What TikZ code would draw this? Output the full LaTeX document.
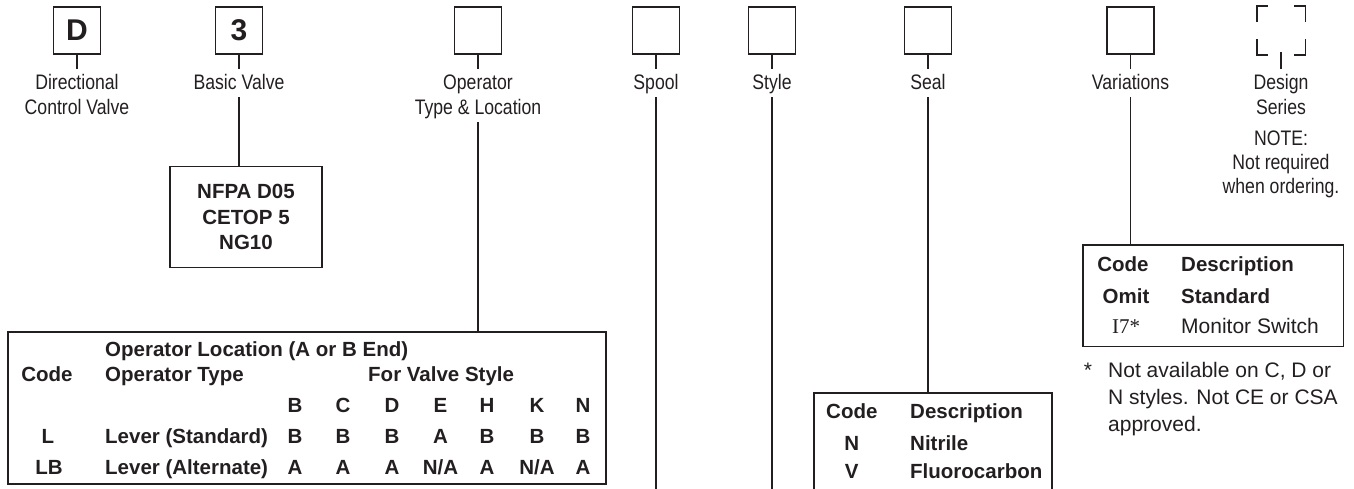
\documentclass[tikz,border=0pt]{standalone}
\usepackage{fontspec}
\setmainfont{Liberation Sans}
\newfontfamily\lblfont{Liberation Sans}[FakeStretch=0.84]
\newfontfamily\serffont{Liberation Serif}
\definecolor{ink}{RGB}{35,31,32}
\newcommand\NA{N/A}
\begin{document}
\begin{tikzpicture}[x=1pt,y=-1pt,
 every node/.style={text=ink},
 codebox/.style={draw=ink,line width=1.6pt,minimum width=47pt,minimum height=47pt,inner sep=0pt,font=\bfseries\fontsize{30}{30}\selectfont},
 lbl/.style={anchor=base,inner sep=0pt,text height=21pt,text depth=7pt,font=\lblfont\fontsize{21}{25}\selectfont},
 wire/.style={draw=ink,line width=1.3pt},
 tabframe/.style={draw=ink,line width=1.6pt,inner sep=0pt},
 tabline/.style={draw=ink,line width=1.6pt},
 tb/.style={anchor=base,inner sep=0pt,font=\bfseries\fontsize{20.5}{24}\selectfont},
 tbl/.style={tb,anchor=base west},
 tnorm/.style={anchor=base west,inner sep=0pt,font=\fontsize{21}{25}\selectfont},
]
\useasboundingbox (0,0) rectangle (1354,489);
\coordinate (bottomedge) at (0,495);

% code boxes
\node[codebox] (bD) at (77,30.5) {D};
\node[codebox] (b3) at (239,30.5) {3};
\node[codebox] (bop) at (478,30.5) {};
\node[codebox] (bsp) at (656,30.5) {};
\node[codebox] (bst) at (772,30.5) {};
\node[codebox] (bse) at (928,30.5) {};
\node[codebox] (bva) at (1130.5,30.5) {};
\node[codebox,draw=none] (bds) at (1281,30.5) {};

% design series corners
\draw[tabline] ([yshift=-16pt]bds.north west) -- (bds.north west) -- ([xshift=11pt]bds.north west);
\draw[tabline] ([xshift=-11pt]bds.north east) -- (bds.north east) -- ([yshift=-16pt]bds.north east);
\draw[tabline] ([yshift=16pt]bds.south west) -- (bds.south west) -- ([xshift=11pt]bds.south west);
\draw[tabline] ([xshift=-11pt]bds.south east) -- (bds.south east) -- ([yshift=16pt]bds.south east);

% labels
\node[lbl] (lD1) at (77,90) {Directional};
\node[lbl] (lD2) at (77,115) {Control Valve};
\node[lbl] (l3) at (239,90) {Basic Valve};
\node[lbl] (lop1) at (478,90) {Operator};
\node[lbl] (lop2) at (478,115) {Type \& Location};
\node[lbl] (lsp) at (656,90) {Spool};
\node[lbl] (lst) at (772,90) {Style};
\node[lbl] (lse) at (928,90) {Seal};
\node[lbl] (lva) at (1130.5,90) {Variations};
\node[lbl] (lds1) at (1281,90) {Design};
\node[lbl] (lds2) at (1281,115) {Series};
\node[lbl] (n1) at (1281,146) {NOTE:};
\node[lbl] (n2) at (1281,170) {Not required};
\node[lbl] (n3) at (1281,194) {when ordering.};

% ticks
\draw[wire] (bD.south) -- (lD1.north);
\draw[wire] (b3.south) -- (l3.north);
\draw[wire] (bop.south) -- (lop1.north);
\draw[wire] (bsp.south) -- (lsp.north);
\draw[wire] (bst.south) -- (lst.north);
\draw[wire] (bse.south) -- (lse.north);
\draw[wire] (bva.south) -- (lva.north);
\draw[wire] ([yshift=3pt]bds.south) -- (lds1.north);

% basic valve box
\node[tabframe,minimum width=152.3pt,minimum height=100.6pt,align=center,
      font=\bfseries\fontsize{20.5}{25.5}\selectfont] (nfpa) at (246,217) {NFPA D05\\CETOP 5\\NG10};
\draw[wire] (l3.south) -- (nfpa.north -| l3.south);

% operator table
\node[tabframe,minimum width=598pt,minimum height=152pt] (optab) at (307,408) {};
\draw[wire] (lop2.south) -- (optab.north -| lop2.south);
\node[tbl] (t1) at (105,356) {Operator Location (A or B End)};
\node[tb] (t2) at (47,381) {Code};
\node[tbl] (t3) at (105,381) {Operator Type};
\node[tbl] (t4) at (368,381) {For Valve Style};
\node[tb] (cL) at (48,443) {L};
\node[tbl] (dL) at (105,443) {Lever (Standard)};
\node[tb] (cLB) at (49,474) {LB};
\node[tbl] (dLB) at (105,474) {Lever (Alternate)};
\foreach \i/\x/\h/\s/\al in {1/295/B/B/A, 2/343/C/B/A, 3/392/D/B/A, 4/440.5/E/A/\NA, 5/487/H/B/A, 6/537/K/B/\NA, 7/583/N/B/A}{
  \node[tb] (h\i) at (\x,412) {\h};
  \node[tb] (s\i) at (\x,443) {\s};
  \node[tb] (a\i) at (\x,474) {\al};
}

% spool and style lines
\draw[wire] (lsp.south) -- (lsp.south |- bottomedge);
\draw[wire] (lst.south) -- (lst.south |- bottomedge);

% seal table (open at bottom)
\node[minimum width=238pt,minimum height=102pt,inner sep=0pt] (sealtab) at (933,444) {};
\draw[tabline] (sealtab.south west) -- (sealtab.north west) -- (sealtab.north east) -- (sealtab.south east);
\draw[wire] (lse.south) -- (sealtab.north -| lse.south);
\node[tbl] (sc) at (826,418) {Code};
\node[tbl] (sd) at (910,418) {Description};
\node[tb] (sn) at (851.7,450) {N};
\node[tbl] (snd) at (910,450) {Nitrile};
\node[tb] (sv) at (851.7,478) {V};
\node[tbl] (svd) at (910,478) {Fluorocarbon};

% variations table
\node[tabframe,minimum width=260.6pt,minimum height=101.7pt] (vtab) at (1213,295.8) {};
\draw[wire] (lva.south) -- (vtab.north -| lva.south);
\node[tb] (vc) at (1123,271.7) {Code};
\node[tbl] (vd) at (1181,271.7) {Description};
\node[tb] (vo) at (1126,303.3) {Omit};
\node[tbl] (vs) at (1181,303.3) {Standard};
\node[anchor=base,inner sep=0pt,font=\serffont\fontsize{21}{25}\selectfont] (vi) at (1126,333.3) {I7*};
\node[tnorm] (vm) at (1181,333.3) {Monitor Switch};

% footnote
\node[anchor=base,inner sep=0pt,font=\fontsize{21}{25}\selectfont] (fs) at (1088,377) {*};
\node[tnorm] (f1) at (1108,377) {Not available on C, D or};
\node[tnorm] (f2) at (1108,404) {N styles. Not CE or CSA};
\node[tnorm] (f3) at (1108,431) {approved.};
\end{tikzpicture}
\end{document}
